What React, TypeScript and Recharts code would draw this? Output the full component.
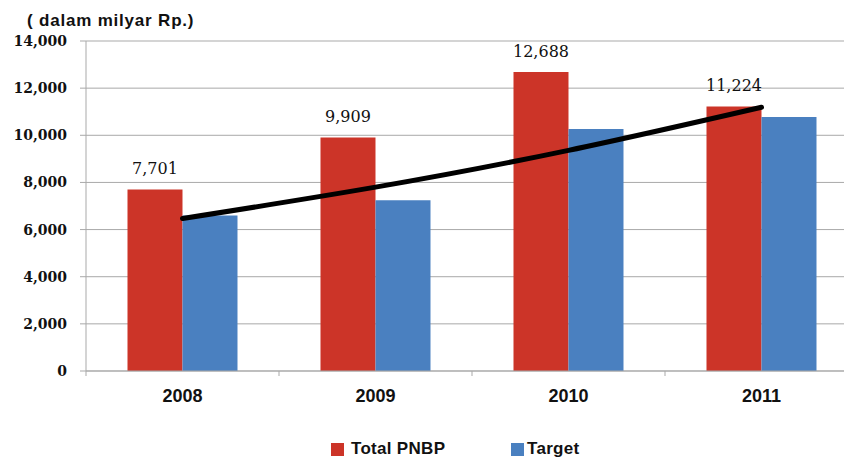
import { ComposedChart, Bar, Line, XAxis, YAxis, CartesianGrid, LabelList } from "recharts";

const years = ["2008", "2009", "2010", "2011"];
const totalPnbp = [7701, 9909, 12688, 11224];
const target = [6600, 7240, 10270, 10780];
const trend = [6470, 7800, 9360, 11190];
const yTicks = [0, 2000, 4000, 6000, 8000, 10000, 12000, 14000];

const RED = "#cc3428";
const BLUE = "#4a80c0";
const GRID = "#a9a9a9";

const data = years.map((year, i) => ({
  year,
  total: totalPnbp[i],
  target: target[i],
  trend: trend[i],
}));

const CHART_W = 880;
const CHART_H = 458;
const margin = { top: 41, right: 22, bottom: 47, left: 0 };
const Y_AXIS_W = 86;
const halfBand = (CHART_W - margin.left - margin.right - Y_AXIS_W) / years.length / 2;

const fmt = (v: number) => v.toLocaleString("en-US");

const YearTick = (props: any) => {
  const { x, y, payload, index } = props;
  return (
    <g>
      <line x1={x - halfBand} x2={x - halfBand} y1={y - 18} y2={y - 13} stroke={GRID} />
      {index === years.length - 1 && (
        <line x1={x + halfBand} x2={x + halfBand} y1={y - 18} y2={y - 13} stroke={GRID} />
      )}
      <text
        x={x}
        y={y}
        dy="0.71em"
        textAnchor="middle"
        fill="#111"
        fontFamily="Liberation Sans, Arial, sans-serif"
        fontWeight="bold"
        fontSize={18}
      >
        {payload.value}
      </text>
    </g>
  );
};

const App = () => {
  return (
    <div
      style={{
        position: "absolute",
        top: 0,
        left: 0,
        width: 844,
        height: 458,
        overflow: "hidden",
        background: "#fff",
      }}
    >
      <div
        style={{
          position: "absolute",
          left: 27,
          top: 12,
          lineHeight: "17px",
          fontFamily: "Liberation Sans, Arial, sans-serif",
          fontWeight: "bold",
          fontSize: 17,
          letterSpacing: 0.8,
          color: "#111",
          whiteSpace: "nowrap",
        }}
      >
        ( dalam milyar Rp.)
      </div>

      <ComposedChart width={CHART_W} height={CHART_H} data={data} margin={margin} barCategoryGap="21.5%" barGap={0}>
        <CartesianGrid vertical={false} stroke={GRID} />
        <XAxis
          dataKey="year"
          height={40}
          axisLine={{ stroke: GRID }}
          tickLine={false}
          tickSize={5}
          tickMargin={13}
          tick={<YearTick />}
          interval={0}
        />
        <YAxis
          width={Y_AXIS_W}
          domain={[0, 14000]}
          ticks={yTicks}
          interval={0}
          tickFormatter={fmt}
          axisLine={{ stroke: GRID }}
          tickLine={{ stroke: GRID }}
          tickSize={6}
          tickMargin={13}
          tick={{ fill: "#111", fontFamily: "DejaVu Serif, serif", fontWeight: "bold", fontSize: 14 }}
        />
        <Bar dataKey="total" fill={RED} isAnimationActive={false}>
          <LabelList
            dataKey="total"
            position="top"
            offset={15}
            formatter={(v: any) => fmt(Number(v))}
            fill="#111"
            fontFamily="DejaVu Serif, serif"
            fontSize={16}
          />
        </Bar>
        <Bar dataKey="target" fill={BLUE} isAnimationActive={false} />
        <Line
          dataKey="trend"
          type="natural"
          stroke="#000"
          strokeWidth={5}
          strokeLinecap="round"
          dot={false}
          activeDot={false}
          isAnimationActive={false}
        />
      </ComposedChart>

      <div
        style={{
          position: "absolute",
          top: 441,
          left: 331,
          height: 16,
          display: "flex",
          alignItems: "center",
          fontFamily: "Liberation Sans, Arial, sans-serif",
          fontWeight: "bold",
          fontSize: 17,
          lineHeight: "16px",
          letterSpacing: 0.3,
          color: "#111",
          whiteSpace: "nowrap",
        }}
      >
        <span style={{ width: 13, height: 13, background: RED, display: "inline-block", marginRight: 7 }} />
        <span style={{ width: 160 }}>Total PNBP</span>
        <span style={{ width: 13, height: 13, background: BLUE, display: "inline-block", marginRight: 3 }} />
        <span>Target</span>
      </div>
    </div>
  );
};

export default App;
